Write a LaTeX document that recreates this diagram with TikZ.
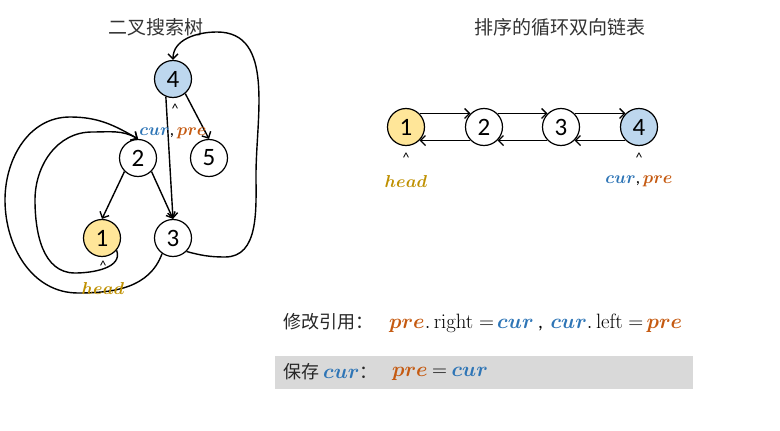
\documentclass[tikz,border=0pt]{standalone}
\usepackage[no-math]{fontspec}
\usepackage{amsmath}
\setmainfont{Carlito}
\newfontfamily\cjk{Noto Sans CJK SC}
\usetikzlibrary{positioning, arrows.meta}

\definecolor{curblue}{HTML}{2E75B6}
\definecolor{prered}{HTML}{C55A11}
\definecolor{headgold}{HTML}{BF9000}
\definecolor{nodeyellow}{HTML}{FFE699}
\definecolor{nodeblue}{HTML}{BDD7EE}
\definecolor{boxgray}{HTML}{D9D9D9}

\newcommand{\vcur}{\textcolor{curblue}{$\boldsymbol{cur}$}}
\newcommand{\vpre}{\textcolor{prered}{$\boldsymbol{pre}$}}
\newcommand{\vhead}{\textcolor{headgold}{$\boldsymbol{head}$}}

\tikzset{
    knot/.style={draw, circle, fill=white, minimum size=37pt, inner sep=0pt, line width=1.2pt, font=\fontsize{25}{25}\selectfont},
    ptr/.style={-{Straight Barb[length=5pt,width=10pt]}, line width=1.4pt},
    hat/.style={font=\fontsize{14}{14}\selectfont, inner sep=0pt},
    lbl/.style={font=\fontsize{17}{17}\selectfont, inner sep=0pt},
    title/.style={font=\cjk\fontsize{19}{19}\selectfont, text=black!80},
    cjktext/.style={font=\cjk\fontsize{18}{18}\selectfont, text=black!85, inner sep=0pt, anchor=west},
    mathtext/.style={font=\fontsize{19.5}{20}\selectfont, inner sep=0pt, anchor=west}
}

\begin{document}
\begin{tikzpicture}[x=1pt, y=1pt]
    \useasboundingbox (0,0) rectangle (780,-431);

    % Binary search tree
    \node[title] (ttitle) at (156,-27) {二叉搜索树};

    \node[knot, fill=nodeblue] (t4) at (173,-79) {4};
    \node[knot] (t2) at (138,-158) {2};
    \node[knot] (t5) at (209,-158) {5};
    \node[knot, fill=nodeyellow] (t1) at (102,-238) {1};
    \node[knot] (t3) at (173,-238) {3};

    \draw[ptr] (t4.-50) -- (t5.north);
    \draw[ptr] (t4.-112) -- (t3.north);
    \draw[ptr] (t2.-135) -- (t1.north);
    \draw[ptr] (t2.-45) -- (t3.north);

    % links already changed
    \draw[ptr] (t3.-45) to[out=-15,in=180] (225,-257) to[out=0,in=-90] (256,-175)
        to[out=90,in=0] (217,-32) to[out=180,in=90] (t4.north);
    \draw[ptr] (t3.-125) to[out=-110,in=0] (78,-293) to[out=180,in=-90] (5,-200)
        to[out=90,in=180] (70,-117) to[out=0,in=150] (t2.north);
    \draw[ptr] (t1.-40) to[out=-70,in=0] (75,-273) to[out=180,in=-90] (35,-200)
        to[out=90,in=180] (92,-132) to[out=0,in=150] (t2.north);

    \node[hat] (tcaret) at (175,-109) {\textasciicircum};
    \node[lbl] (tcur) at (173,-133) {\vcur,\,\vpre};
    \node[hat] (hcaret) at (103,-266) {\textasciicircum};
    \node[lbl] (thead) at (103,-288) {\vhead};

    % Sorted circular doubly linked list
    \node[title] (ltitle) at (560,-27) {排序的循环双向链表};

    \node[knot, fill=nodeyellow] (l1) at (406,-127) {1};
    \node[knot] (l2) at (484,-127) {2};
    \node[knot] (l3) at (561,-127) {3};
    \node[knot, fill=nodeblue] (l4) at (639,-127) {4};

    \foreach \a/\b in {l1/l2, l2/l3, l3/l4} {
        \draw[ptr] (\a.45) -- (\b.135);
        \draw[ptr] (\b.-135) -- (\a.-45);
    }

    \node[hat] (lcaret1) at (406,-158) {\textasciicircum};
    \node[lbl] (lhead) at (406,-181) {\vhead};
    \node[hat] (lcaret4) at (639,-158) {\textasciicircum};
    \node[lbl] (lcur) at (639,-181) {\vcur,\,\vpre};

    % Steps
    \node[cjktext] (step1) at (283,-322) {修改引用：};
    \node[mathtext] (step1eq) at (389,-323)
        {\vpre$.\,\mathrm{right}=$\,\vcur\ ,\, \vcur$.\,\mathrm{left}=$\,\vpre};
    \fill[boxgray] (275,-356) rectangle (693,-389);
    \node[cjktext] (step2) at (283,-372) {保存 \textcolor{curblue}{\fontsize{20}{20}\selectfont$\boldsymbol{cur}$}：};
    \node[mathtext] (step2eq) at (392,-374) {\vpre\ $=$ \vcur};
\end{tikzpicture}
\end{document}
